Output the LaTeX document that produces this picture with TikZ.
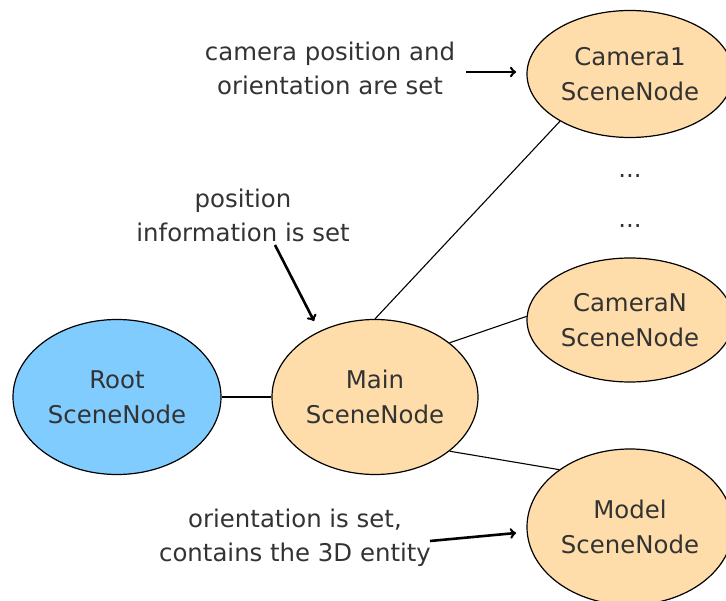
\documentclass[tikz,border=0pt]{standalone}
\usepackage{fontspec}
\setmainfont{DejaVu Sans}
\usetikzlibrary{shapes.geometric}
\definecolor{rootblue}{RGB}{128,204,255}
\definecolor{peach}{RGB}{255,221,170}
\begin{document}
\begin{tikzpicture}[x=1pt,y=-1pt,
        scenenode/.style={ellipse,draw,line width=1.2pt,inner sep=-12pt,align=center,text=black!80,font=\fontsize{24.4}{35}\selectfont},
        note/.style={align=center,text=black!80,font=\fontsize{24.4}{34}\selectfont},
        link/.style={line width=1.1pt},
        hint/.style={->,line width=2.6pt}]
    \useasboundingbox (0,0) rectangle (726,601);
    \node[scenenode,fill=rootblue,minimum width=208pt,minimum height=155pt] (root) at (117,397) {Root\\SceneNode};
    \node[scenenode,fill=peach,minimum width=206pt,minimum height=155pt] (main) at (375,397) {Main\\SceneNode};
    \node[scenenode,fill=peach,minimum width=206pt,minimum height=127pt] (cam1) at (630,74) {Camera1\\SceneNode};
    \node[scenenode,fill=peach,minimum width=206pt,minimum height=124pt] (camN) at (630,320) {CameraN\\SceneNode};
    \node[scenenode,fill=peach,minimum width=206pt,minimum height=156pt] (model) at (630,527) {Model\\SceneNode};
    \node[note] (dots1) at (630,176) {...};
    \node[note] (dots2) at (630,226) {...};
    \draw[link] (root.east) -- (main.west);
    \draw[link] (main.north) -- (cam1.214);
    \draw[link] (main.36) -- (camN.178);
    \draw[link] (main.324) -- (model.141);
    \node[note] (camnote) at (330,68) {camera position and\\orientation are set};
    \node[note] (posnote) at (243,215) {position\\information is set};
    \node[note] (modelnote) at (295,538) {orientation is set,\\contains the 3D entity};
    \coordinate (camtail) at (466,72);
    \coordinate (camhead) at (516,72);
    \coordinate (postail) at (275,245);
    \coordinate (poshead) at (314,321);
    \coordinate (modeltail) at (430,541);
    \coordinate (modelhead) at (516,533);
    \draw[hint] (camtail) -- (camhead);
    \draw[hint] (postail) -- (poshead);
    \draw[hint] (modeltail) -- (modelhead);
\end{tikzpicture}
\end{document}
